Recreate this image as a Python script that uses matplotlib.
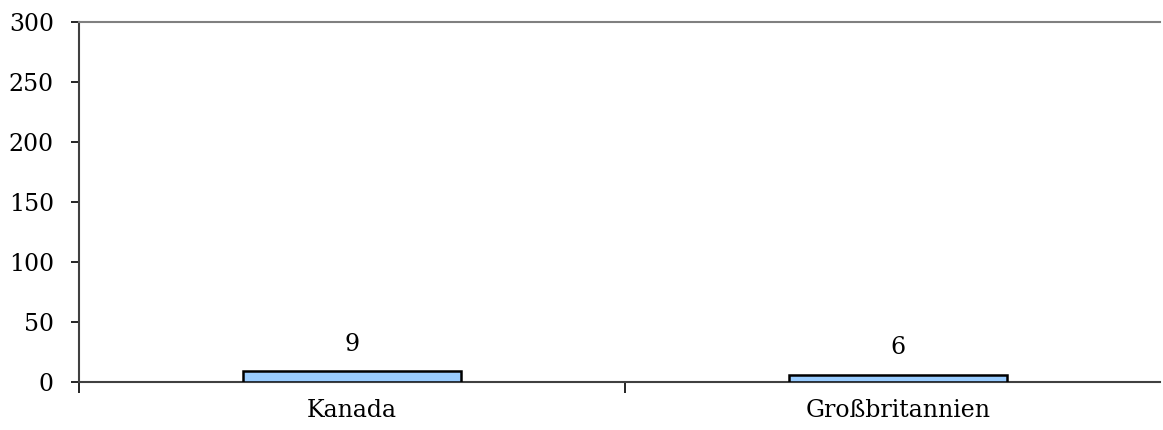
import matplotlib.pyplot as plt

countries = ['Kanada', 'Großbritannien']
values = [9, 6]
y_ticks = [0, 50, 100, 150, 200, 250, 300]

plt.rcParams['font.family'] = ['DejaVu Serif']

fig = plt.figure(figsize=(11.63, 4.30), dpi=100)
ax = fig.add_axes([79 / 1163, 48 / 430, 1081 / 1163, 360 / 430])

x = list(range(len(countries)))
bars = ax.bar(x, values, width=0.4, color='#99ccff', edgecolor='black', linewidth=1.8, zorder=3)
for xi, v in zip(x, values):
    ax.text(xi, v + 13, str(v), ha='center', va='bottom', fontsize=17)

ax.set_xlim(-0.5, 1.48)
ax.set_ylim(0, 300)
ax.set_yticks(y_ticks)
ax.set_yticklabels([str(t) for t in y_ticks], fontsize=17)

ax.set_xticks(x)
ax.set_xticklabels(countries, fontsize=17)
ax.tick_params(axis='x', length=0, pad=12)
ax.set_xticks([-0.5, 0.5], minor=True)
ax.tick_params(axis='x', which='minor', length=8, width=1.2, direction='out')
ax.tick_params(axis='y', length=6, width=1.2, direction='out', pad=12)

ax.spines['right'].set_visible(False)
ax.spines['top'].set_color('#808080')
ax.spines['top'].set_linewidth(1.5)
ax.spines['left'].set_color('#404040')
ax.spines['left'].set_linewidth(1.5)
ax.spines['bottom'].set_color('#404040')
ax.spines['bottom'].set_linewidth(1.5)

fig.savefig('out.png', dpi=100)
